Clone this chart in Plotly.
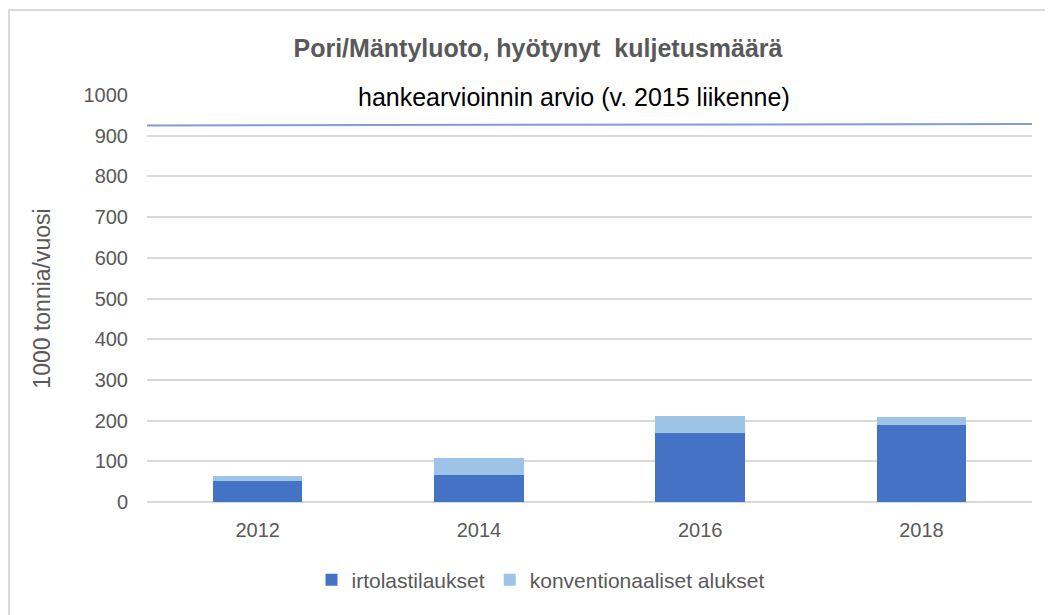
import plotly.graph_objects as go

years = [2012, 2014, 2016, 2018]
irtolasti = [51, 66, 170, 188]
konventio = [12, 42, 42, 21]
line_years = [2011, 2013, 2015, 2017, 2019]
line_values = [925, 926, 927, 928, 929]
tick_vals = [2012, 2014, 2016, 2018]
tick_text = ["2012", "2014", "2016", "2018"]

OFF = 8  # browser body margin
W, H = 1053 - OFF, 615 - OFF
# plot area in screen pixels: x 147..1032, y 95..502
L, R, T, B = 147 - OFF, 1053 - 1032, 95 - OFF, 615 - 502
pw, ph = W - L - R, H - T - B

def px(x):
    return (x - OFF - L) / pw

def py(y):
    return (H - B - (y - OFF)) / ph

FONT = "Liberation Sans"
GRAY = "#595959"

fig = go.Figure()
fig.add_trace(go.Bar(x=years, y=irtolasti, name="irtolastilaukset",
                     marker=dict(color="#4472C4", line=dict(width=0)), width=0.81))
fig.add_trace(go.Bar(x=years, y=konventio, name="konventionaaliset alukset",
                     marker=dict(color="#9DC3E6", line=dict(width=0)), width=0.81))
fig.add_trace(go.Scatter(x=line_years, y=line_values, mode="lines", showlegend=False,
                         line=dict(color="#7f9ed9", width=2), cliponaxis=False))

fig.update_layout(
    width=W, height=H, barmode="stack", bargap=0,
    margin=dict(l=L, r=R, t=T, b=B, autoexpand=False),
    plot_bgcolor="white", paper_bgcolor="white",
    font=dict(family=FONT, color=GRAY, size=20),
    title=dict(text="<b>Pori/Mäntyluoto, hyötynyt  kuljetusmäärä</b>",
               x=(538 - OFF) / W, xanchor="center",
               y=1 - (48 - OFF) / H, yanchor="middle",
               font=dict(family=FONT, size=25, color=GRAY)),
    xaxis=dict(range=[2011, 2019], tickvals=tick_vals, ticktext=tick_text,
               showgrid=False, showline=False, zeroline=False, ticks="",
               ticklabelstandoff=14,
               tickfont=dict(size=20, color=GRAY)),
    yaxis=dict(range=[0, 1000], dtick=100, gridcolor="#d9d9d9", gridwidth=1.5,
               zeroline=True, zerolinecolor="#d9d9d9", zerolinewidth=1.5,
               showline=False, ticks="", ticklabelstandoff=18,
               tickfont=dict(size=20, color=GRAY),
               title=dict(text="1000 tonnia/vuosi", standoff=26,
                          font=dict(size=23, color=GRAY))),
    legend=dict(orientation="h", x=px(541), xanchor="center",
                y=py(580), yanchor="middle", font=dict(size=21, color=GRAY),
                itemwidth=30, traceorder="normal"),
    annotations=[dict(text="hankearvioinnin arvio (v. 2015 liikenne)",
                      xref="paper", yref="paper", x=px(574), y=py(97),
                      xanchor="center", yanchor="middle", showarrow=False,
                      font=dict(family=FONT, size=25, color="#000000"))],
    shapes=[dict(type="rect", xref="paper", yref="paper",
                 x0=px(9), x1=px(1080), y0=py(640), y1=py(10),
                 line=dict(color="#d9d9d9", width=2), fillcolor="rgba(0,0,0,0)",
                 layer="below")],
)

fig.write_html("out.html")
